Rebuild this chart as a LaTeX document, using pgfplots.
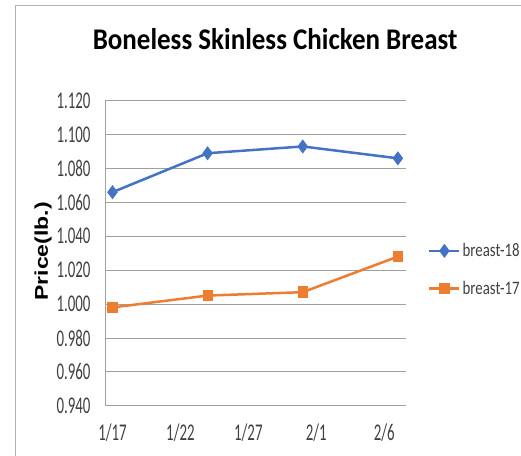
\documentclass[border=0pt]{standalone}
\usepackage{pgfplots}
\pgfplotsset{compat=1.18}
\usepackage{fontspec}
\setmainfont{Carlito}
\newfontfamily\tickfont[FakeStretch=0.62]{Carlito}
\newfontfamily\legfont[FakeStretch=0.78]{Carlito}
\newfontfamily\titlefont[FakeStretch=0.9]{Carlito}
\newfontfamily\ylabfont{Liberation Sans}
\definecolor{s18}{HTML}{4472C4}
\definecolor{s17}{HTML}{ED7D31}
\definecolor{gridc}{HTML}{A0A0A0}
\definecolor{txt}{HTML}{404040}
\begin{document}
\begin{tikzpicture}
\useasboundingbox (0,0) rectangle (521bp,-456bp);
\draw[gray!60, line width=0.8bp] (15bp,-456bp) -- (15bp,-5bp) -- (521bp,-5bp);
\begin{axis}[
  at={(105bp,-405.7bp)}, anchor=south west,
  scale only axis, width=301bp, height=305bp,
  xmin=-0.55, xmax=21.6, ymin=0.94, ymax=1.12,
  xtick={0,5,10,15,20},
  xticklabels={1/17,1/22,1/27,2/1,2/6},
  ytick={0.94,0.96,0.98,1.00,1.02,1.04,1.06,1.08,1.10,1.12},
  /pgf/number format/assume math mode=true,
  /pgf/number format/fixed, /pgf/number format/fixed zerofill, /pgf/number format/precision=3,
  ticklabel style={font=\tickfont\fontsize{24bp}{24bp}\selectfont, text=txt},
  yticklabel style={xshift=-11bp},
  xticklabel style={yshift=-15bp},
  major tick length=0pt,
  axis x line*=bottom, axis y line*=left,
  axis line style={gridc, line width=0.8bp, -},
  ymajorgrids, grid style={gridc, line width=0.8bp},
  title={\titlefont\bfseries\fontsize{30bp}{30bp}\selectfont Boneless Skinless Chicken Breast},
  title style={at={(0.565,1.184)}, anchor=center, inner sep=0pt},
  ylabel={\scalebox{1}[0.8]{\ylabfont\bfseries\fontsize{23bp}{23bp}\selectfont Price(lb.)}},
  ylabel style={at={(-0.206,0.506)}, anchor=center, rotate=0},
  legend style={draw=none, fill=none, at={(1.073,0.539)}, anchor=north west,
    font=\legfont\fontsize{19bp}{19bp}\selectfont, text=txt,
    inner sep=0pt, row sep=19bp, legend cell align=left},
  legend image code/.code={
    \draw[#1, mark repeat=2, mark phase=2] plot coordinates {(0bp,0bp) (15bp,0bp) (30bp,0bp)};
  },
  clip=false,
]
\addplot[s18, line width=2.5bp, mark=diamond*, mark size=5bp, mark options={solid}]
  coordinates {(0,1.066) (7,1.089) (14,1.093) (21,1.086)};
\addlegendentry{breast-18}
\addplot[s17, line width=2.5bp, mark=square*, mark size=4.5bp, mark options={solid, xscale=0.85}]
  coordinates {(0,0.998) (7,1.005) (14,1.007) (21,1.028)};
\addlegendentry{breast-17}
\end{axis}
\end{tikzpicture}
\end{document}
